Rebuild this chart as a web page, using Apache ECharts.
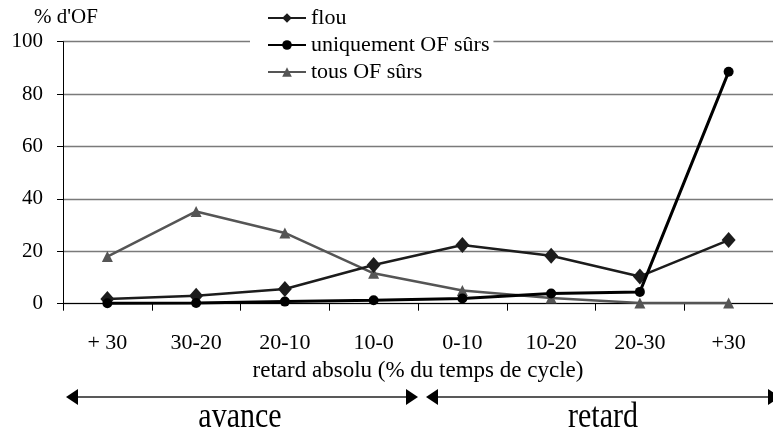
<!DOCTYPE html>
<html>
<head>
<meta charset="utf-8">
<script src="https://cdn.jsdelivr.net/npm/echarts@6/dist/echarts.min.js"></script>
<style>
  html, body { margin: 0; padding: 0; background: #fff; }
  #chart { width: 773px; height: 432px; }
</style>
</head>
<body>
<div id="chart"></div>
<script>
// Delay classes (percentage of the cycle time)
const categories = ['+ 30', '30-20', '20-10', '10-0', '0-10', '10-20', '20-30', '+30'];

// Share of manufacturing orders per delay class (%)
const flou = [1.8, 3.0, 5.6, 14.8, 22.4, 18.3, 10.4, 24.3];
const uniquementSurs = [0.2, 0.3, 0.8, 1.3, 2.0, 3.9, 4.5, 88.5];
const tousSurs = [18.0, 35.2, 27.0, 11.6, 5.0, 2.2, 0.3, 0.3];

const yTicks = [0, 20, 40, 60, 80, 100];

const FONT = '"Liberation Serif", "DejaVu Serif", serif';

const chart = echarts.init(document.getElementById('chart'), null, { renderer: 'canvas' });

// Filled triangle head for the double arrows below the axis
function head(tipX, y, dir) {
  const w = 12, h = 8;
  return {
    type: 'polygon',
    shape: { points: [[tipX, y], [tipX - dir * w, y - h], [tipX - dir * w, y + h]] },
    style: { fill: '#000' }
  };
}

// Large captions under the arrows, slightly stretched vertically
function caption(text, cx) {
  return {
    type: 'text',
    x: cx, y: 418,
    scaleY: 1.2,
    originX: 0, originY: 0,
    style: { text: text, font: '30px ' + FONT, fill: '#000', align: 'center', verticalAlign: 'middle' }
  };
}

const option = {
  backgroundColor: '#fff',
  animation: false,
  grid: { left: 63, top: 41.7, width: 720, height: 262, containLabel: false },
  legend: {
    orient: 'vertical',
    left: 250,
    top: 0,
    padding: [7, 4, 6, 17],
    itemGap: 5,
    itemWidth: 38,
    itemHeight: 12,
    backgroundColor: '#fff',
    textStyle: { fontFamily: FONT, fontSize: 22, color: '#000', padding: [0, 0, 0, 0] },
    data: ['flou', 'uniquement OF sûrs', 'tous OF sûrs']
  },
  xAxis: {
    type: 'category',
    data: categories,
    boundaryGap: true,
    name: 'retard absolu (% du temps de cycle)',
    nameLocation: 'middle',
    nameGap: 54,
    nameTextStyle: { fontFamily: FONT, fontSize: 23, color: '#000' },
    axisLine: { lineStyle: { color: '#000', width: 1 } },
    axisTick: { show: true, length: 7, lineStyle: { color: '#000' } },
    axisLabel: { fontFamily: FONT, fontSize: 22, color: '#000', margin: 29 },
    splitLine: { show: false }
  },
  yAxis: {
    type: 'value',
    min: yTicks[0],
    max: yTicks[yTicks.length - 1],
    interval: 20,
    name: "% d'OF",
    nameLocation: 'end',
    nameGap: 14,
    nameTextStyle: { fontFamily: FONT, fontSize: 21, color: '#000', align: 'center', padding: [0, 0, 0, 6] },
    axisLine: { show: true, lineStyle: { color: '#000', width: 1 } },
    axisTick: { show: true, length: 6, lineStyle: { color: '#000' } },
    axisLabel: { fontFamily: FONT, fontSize: 21, color: '#000', margin: 20 },
    splitLine: { show: true, lineStyle: { color: '#7a7a7a', width: 1.3 } }
  },
  series: [
    {
      name: 'tous OF sûrs',
      type: 'line',
      data: tousSurs,
      symbol: 'triangle',
      symbolSize: [11, 11],
      color: '#555',
      lineStyle: { color: '#555', width: 2.5 },
      itemStyle: { color: '#555' },
      z: 2
    },
    {
      name: 'flou',
      type: 'line',
      data: flou,
      symbol: 'diamond',
      symbolSize: [14, 16],
      color: '#1c1c1c',
      lineStyle: { color: '#1c1c1c', width: 2.5 },
      itemStyle: { color: '#1c1c1c' },
      z: 3
    },
    {
      name: 'uniquement OF sûrs',
      type: 'line',
      data: uniquementSurs,
      symbol: 'circle',
      symbolSize: 10,
      color: '#000',
      lineStyle: { color: '#000', width: 3 },
      itemStyle: { color: '#000' },
      z: 4
    }
  ],
  graphic: [
    // avance: left double arrow
    { type: 'line', shape: { x1: 72, y1: 397, x2: 412, y2: 397 }, style: { stroke: '#222', lineWidth: 1.5 } },
    head(66, 397, -1),
    head(418, 397, 1),
    // retard: right double arrow
    { type: 'line', shape: { x1: 432, y1: 397, x2: 780, y2: 397 }, style: { stroke: '#222', lineWidth: 1.5 } },
    head(426, 397, -1),
    head(780, 397, 1),
    caption('avance', 240),
    caption('retard', 603)
  ]
};

chart.setOption(option);
</script>
</body>
</html>
